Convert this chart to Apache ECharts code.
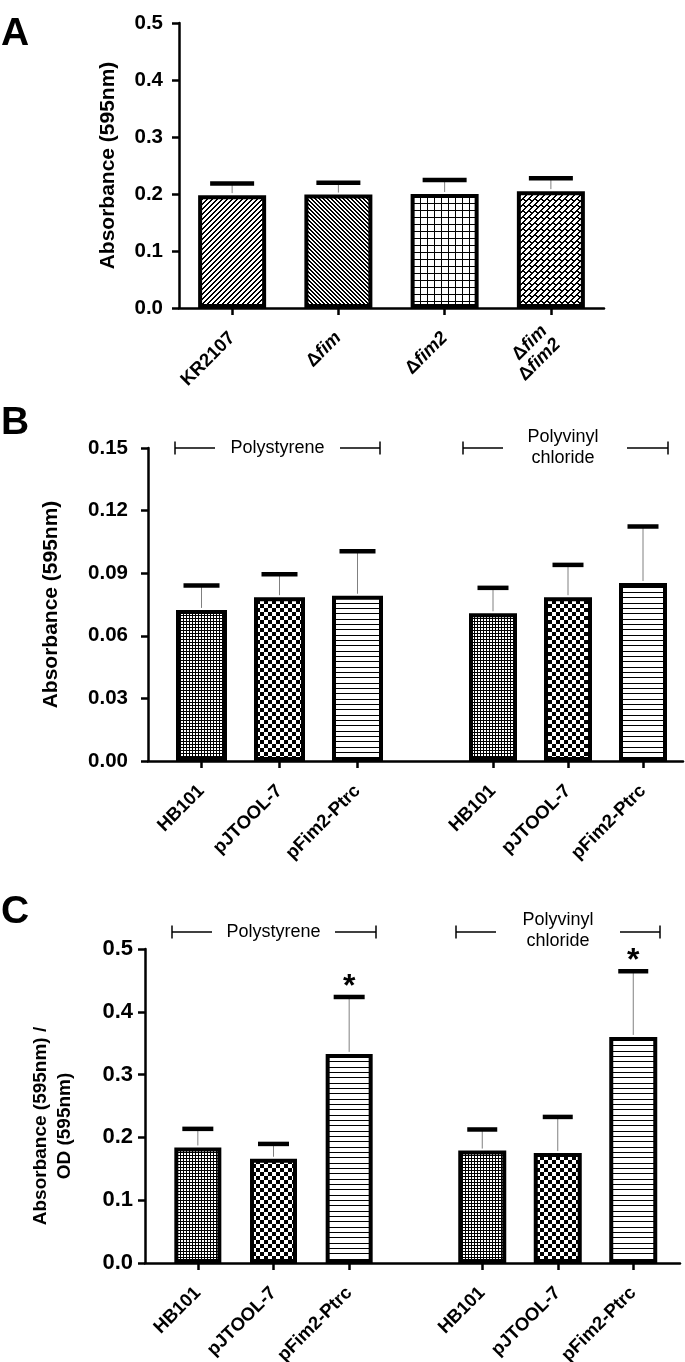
<!DOCTYPE html>
<html><head><meta charset="utf-8">
<script src="https://cdn.jsdelivr.net/npm/echarts@6/dist/echarts.min.js"></script>
<style>html,body{margin:0;padding:0;background:#fff}#c{width:685px;height:1362px}</style>
</head><body><div id="c"></div>
<script>
// ---------- DATA ----------
// Panel A
const catsA = ['KR2107', 'Δfim', 'Δfim2', 'Δfim\nΔfim2'];
const meanA = [0.198, 0.199, 0.200, 0.205];
const sdA   = [0.021, 0.021, 0.025, 0.023];
const yA = {min: 0, max: 0.5, interval: 0.1, digits: 1};
// Panel B
const catsB = ['HB101', 'pJTOOL-7', 'pFim2-Ptrc'];
const meanB_PS  = [0.0724, 0.0785, 0.0792];
const sdB_PS    = [0.0118, 0.0111, 0.0214];
const meanB_PVC = [0.0708, 0.0785, 0.0853];
const sdB_PVC   = [0.0123, 0.0156, 0.0272];
const yB = {min: 0, max: 0.15, interval: 0.03, digits: 2};
// Panel C
const catsC = ['HB101', 'pJTOOL-7', 'pFim2-Ptrc'];
const meanC_PS  = [0.184, 0.166, 0.333];
const sdC_PS    = [0.030, 0.024, 0.091];
const sigC_PS   = [0, 0, 1];
const meanC_PVC = [0.179, 0.175, 0.360];
const sdC_PVC   = [0.034, 0.058, 0.105];
const sigC_PVC  = [0, 0, 1];
const yC = {min: 0, max: 0.5, interval: 0.1, digits: 1};
const groupNames = ['Polystyrene', 'Polyvinyl\nchloride'];

// ---------- PATTERNS ----------
function pix(w, h, f) {
  const c = document.createElement('canvas'); c.width = w; c.height = h;
  const ctx = c.getContext('2d'); const img = ctx.createImageData(w, h);
  for (let y = 0; y < h; y++) for (let x = 0; x < w; x++) {
    const i = (y * w + x) * 4; const v = f(x, y) ? 0 : 255;
    img.data[i] = v; img.data[i+1] = v; img.data[i+2] = v; img.data[i+3] = 255;
  }
  ctx.putImageData(img, 0, 0);
  return {image: c, repeat: 'repeat'};
}
const P = {
  diagUp:   pix(5, 5, (x, y) => ((x + y) % 5) < 2),
  diagDown: pix(4, 4, (x, y) => ((x - y + 40) % 4) < 2),
  grid:     pix(7, 7, (x, y) => x % 7 === 0 || y % 7 === 0),
  brick:    pix(12, 12, (x, y) => { const s = (x + y) % 12; const row = s < 6 ? 0 : 1;
              const d = (x - y + 120 + row * 6) % 12; return (s % 6) < 2 || d < 2; }),
  fine:     pix(3, 3, (x, y) => (x % 3 === 0) !== (y % 3 === 0) || (x % 3 === 0 && y % 3 === 0)),
  checker:  pix(8, 8, (x, y) => (((x >> 2) + (y >> 2)) % 2) === 0),
  hlines:   pix(1, 16, (x, y) => y === 0 || y === 5 || y === 11)
};
const patA = [P.diagUp, P.diagDown, P.grid, P.brick];
const patBC = [P.fine, P.checker, P.hlines];

// ---------- HELPERS ----------
const FF = '"Liberation Sans", Arial, Helvetica, sans-serif';
const AX = {color: '#000', width: 2.5};

function barSeries(xi, yi, means, pats, bw) {
  return {type: 'bar', xAxisIndex: xi, yAxisIndex: yi, barWidth: bw, silent: true,
    data: means.map((m, i) => ({value: m, itemStyle: {color: pats[i], borderColor: '#000', borderWidth: 4}}))};
}
function errSeries(xi, yi, means, sds, sigs, capW) {
  return {type: 'custom', xAxisIndex: xi, yAxisIndex: yi, z: 5, silent: true,
    data: means.map((m, i) => [i, m, m + sds[i], sigs ? sigs[i] : 0]),
    renderItem(params, api) {
      const p0 = api.coord([api.value(0), api.value(1)]);
      const p1 = api.coord([api.value(0), api.value(2)]);
      const ch = [
        {type: 'line', shape: {x1: p0[0], y1: p0[1] - 2, x2: p1[0], y2: p1[1]}, style: {stroke: '#808080', lineWidth: 1}},
        {type: 'rect', shape: {x: p1[0] - capW / 2, y: p1[1] - 2, width: capW, height: 4.5}, style: {fill: '#000'}}
      ];
      if (api.value(3)) ch.push({type: 'text', x: p1[0], y: p1[1] - 10,
        style: {text: '*', fontSize: 32, fontWeight: 'bold', fontFamily: FF, fill: '#000', align: 'center', verticalAlign: 'middle'}});
      return {type: 'group', children: ch};
    }};
}
const XL = 18.5;
function catAxis(gi, cats, showLine, fmt) {
  return {type: 'category', gridIndex: gi, data: cats, boundaryGap: true,
    axisLine: {show: showLine, lineStyle: AX},
    axisTick: {show: true, alignWithLabel: true, length: 7, lineStyle: AX},
    axisLabel: {rotate: 45, margin: 27, fontSize: XL, fontWeight: 'bold', fontFamily: FF, color: '#000', interval: 0,
      formatter: fmt, rich: fmt ? {
        d: {fontSize: XL, fontWeight: 'bold', fontFamily: FF, color: '#000'},
        i: {fontSize: XL, fontWeight: 'bold', fontStyle: 'italic', fontFamily: FF, color: '#000'}} : undefined},
    splitLine: {show: false}};
}
function frameXAxis(gi) {
  return {type: 'value', gridIndex: gi, min: 0, max: 1, axisLine: {show: true, lineStyle: AX},
    axisTick: {show: false}, axisLabel: {show: false}, splitLine: {show: false}};
}
function valAxis(gi, sc, name, gap, nameSize, tickSize, margin, pad) {
  return {type: 'value', gridIndex: gi, min: sc.min, max: sc.max, interval: sc.interval,
    axisLine: {show: true, lineStyle: AX},
    axisTick: {show: true, length: 7, lineStyle: AX},
    axisLabel: {fontSize: tickSize, fontWeight: 'bold', fontFamily: FF, color: '#000', margin: margin,
      formatter: v => v.toFixed(sc.digits)},
    splitLine: {show: false},
    name: name, nameLocation: 'middle', nameRotate: 90, nameGap: gap,
    nameTextStyle: {fontSize: nameSize, fontWeight: 'bold', fontFamily: FF, color: '#000', lineHeight: nameSize + 5, padding: pad || 0}};
}
function hiddenY(gi, sc) { return {type: 'value', gridIndex: gi, min: sc.min, max: sc.max, show: false}; }

const fmtA = v => v.split('\n').map(l => l.replace(/Δ(fim2?)/, '{d|Δ}{i|$1}')).join('\n');

// annotation brackets
function bracket(xL, xL2, xR2, xR, y, text, tx, ty) {
  const ls = {stroke: '#000', lineWidth: 1.5};
  return [
    {type: 'line', shape: {x1: xL, y1: y, x2: xL2, y2: y}, style: ls},
    {type: 'line', shape: {x1: xL, y1: y - 6.5, x2: xL, y2: y + 6.5}, style: ls},
    {type: 'line', shape: {x1: xR2, y1: y, x2: xR, y2: y}, style: ls},
    {type: 'line', shape: {x1: xR, y1: y - 6.5, x2: xR, y2: y + 6.5}, style: ls},
    {type: 'text', x: tx, y: ty, style: {text: text, fontSize: 18, fontFamily: FF, fill: '#000', align: 'center', verticalAlign: 'middle', lineHeight: 21}}
  ];
}
function letter(t, x, y) {
  return {type: 'text', x: x, y: y, style: {text: t, fontSize: 39, fontWeight: 'bold', fontFamily: FF, fill: '#000', align: 'left', verticalAlign: 'top'}};
}
function g(l, t, w, h) { return {left: l, top: t, width: w, height: h, containLabel: false, outerBoundsMode: 'none'}; }

const chart = echarts.init(document.getElementById('c'), null, {renderer: 'canvas'});
chart.setOption({
  animation: false,
  backgroundColor: '#fff',
  grid: [
    g(179, 23, 425, 285),
    g(148, 448, 535, 313),
    g(162.5, 448, 234, 313),
    g(455.5, 448, 225, 313),
    g(145, 949, 535, 314),
    g(160, 949, 227, 314),
    g(444.5, 949, 226.5, 314)
  ],
  xAxis: [
    catAxis(0, catsA, true, fmtA),
    frameXAxis(1), catAxis(2, catsB, false), catAxis(3, catsB, false),
    frameXAxis(4), catAxis(5, catsC, false), catAxis(6, catsC, false)
  ],
  yAxis: [
    valAxis(0, yA, 'Absorbance (595nm)', 58, 21, 20.5, 16),
    valAxis(1, yB, 'Absorbance (595nm)', 84, 21, 20.5, 20), hiddenY(2, yB), hiddenY(3, yB),
    valAxis(4, yC, 'Absorbance (595nm) /\nOD (595nm)', 68, 19, 22, 12, [0, 40, 0, 0]), hiddenY(5, yC), hiddenY(6, yC)
  ],
  series: [
    barSeries(0, 0, meanA, patA, 68), errSeries(0, 0, meanA, sdA, null, 44),
    barSeries(2, 2, meanB_PS, patBC, 51), errSeries(2, 2, meanB_PS, sdB_PS, null, 36),
    barSeries(3, 3, meanB_PVC, patBC, 48), errSeries(3, 3, meanB_PVC, sdB_PVC, null, 31),
    barSeries(5, 5, meanC_PS, patBC, 47), errSeries(5, 5, meanC_PS, sdC_PS, sigC_PS, 31),
    barSeries(6, 6, meanC_PVC, patBC, 48), errSeries(6, 6, meanC_PVC, sdC_PVC, sigC_PVC, 30)
  ],
  graphic: [
    letter('A', 1, 15), letter('B', 1, 404), letter('C', 1, 893),
    ...bracket(175, 215, 340, 380, 448, groupNames[0], 277.5, 448),
    ...bracket(463, 503, 627, 668, 448, groupNames[1], 563, 447.5),
    ...bracket(172, 212, 335, 376, 932, groupNames[0], 273.5, 932),
    ...bracket(456, 496, 620, 660, 932, groupNames[1], 558, 931)
  ]
});
</script></body></html>
